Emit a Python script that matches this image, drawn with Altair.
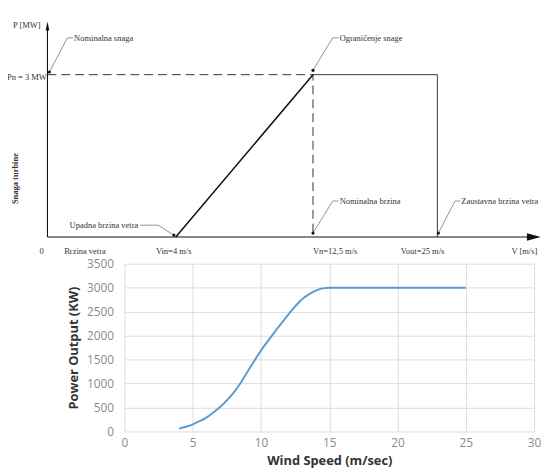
import altair as alt
import pandas as pd

# ---------------- bottom chart: measured power curve ----------------
wind_speed = [4.0, 4.5, 5.0, 5.5, 6.0, 6.5, 7.0, 7.5, 8.0, 8.5, 9.0, 9.5, 10.0,
              10.5, 11.0, 11.5, 12.0, 12.5, 13.0, 13.5, 14.0, 14.5, 15.0, 16.0,
              18.0, 20.0, 22.0, 25.0]
power_kw = [60, 100, 150, 215, 290, 395, 510, 650, 810, 1010, 1240, 1470, 1690,
            1885, 2075, 2260, 2440, 2610, 2760, 2860, 2940, 2985, 3000, 3000,
            3000, 3000, 3000, 3000]
x_ticks = [0, 5, 10, 15, 20, 25, 30]
y_ticks = [0, 500, 1000, 1500, 2000, 2500, 3000, 3500]

# ---------------- top chart: idealised (schematic) power curve ----------------
v_in, v_n, v_out = 4, 12.5, 25
p_n = 3
axis_v_end = 34.1
axis_p_end = 3.85
arrow_v = 34.7
arrow_p = 3.9

# leader lines: (id, V, P)
leader_id = [1, 1, 1, 2, 2, 2, 3, 3, 3, 4, 4, 4, 5, 5, 5]
leader_v = [0.80, 0.62, 0.06, 15.08, 14.48, 12.5, 15.08, 14.48, 12.5,
            27.28, 26.78, 25.1, 2.89, 3.45, 3.94]
leader_p = [3.68, 3.68, 3.05, 3.68, 3.68, 3.08, 0.666, 0.666, 0.073,
            0.666, 0.666, 0.073, 0.219, 0.219, 0.036]

left_text = ["Nominalna snaga", "Ograničenje snage", "Nominalna brzina",
             "Zaustavna brzina vetra", "Brzina vetra", "Vin=4 m/s",
             "Vn=12,5 m/s", "Vout=25 m/s", "V [m/s]"]
left_v = [0.83, 15.18, 15.18, 27.4, 0.52, 3.38, 12.5, 21.33, 32.44]
left_p = [3.68, 3.68, 0.666, 0.666, -0.255, -0.255, -0.255, -0.255, -0.255]

right_text = ["P [MW]", "Pn = 3 MW", "Upadna brzina vetra"]
right_v = [-0.215, -0.02, 2.83]
right_p = [3.92, 2.96, 0.219]

center_text = ["0"]
center_v = [-0.185]
center_p = [-0.255]

rot_text = ["Snaga turbine"]
rot_v = [-1.0]
rot_p = [1.08]

# ---------------- tables ----------------
curve_df = pd.DataFrame({"ws": wind_speed, "kw": power_kw})

axes_df = pd.DataFrame({
    "id": [1, 1, 2, 2],
    "ord": [0, 1, 0, 1],
    "V": [0, axis_v_end, 0, 0],
    "P": [0, 0, 0, axis_p_end],
})
dash_df = pd.DataFrame({"ord": [0, 1, 2], "V": [0, v_n, v_n], "P": [p_n, p_n, 0]})
ramp_df = pd.DataFrame({"ord": [0, 1], "V": [v_in, v_n], "P": [0, p_n]})
plateau_df = pd.DataFrame({"ord": [0, 1, 2], "V": [v_n, v_out, v_out], "P": [p_n, p_n, 0]})
leader_df = pd.DataFrame({"id": leader_id, "ord": list(range(len(leader_id))),
                          "V": leader_v, "P": leader_p})
leader_end_df = leader_df.groupby("id").tail(1)
arrow_x_df = pd.DataFrame({"V": [arrow_v], "P": [0]})
arrow_y_df = pd.DataFrame({"V": [0], "P": [arrow_p]})
left_df = pd.DataFrame({"t": left_text, "V": left_v, "P": left_p})
right_df = pd.DataFrame({"t": right_text, "V": right_v, "P": right_p})
center_df = pd.DataFrame({"t": center_text, "V": center_v, "P": center_p})
rot_df = pd.DataFrame({"t": rot_text, "V": rot_v, "P": rot_p})

# ---------------- schematic scales ----------------
xs = alt.Scale(domain=[0, v_in, v_n, v_out], range=[-78, 52, 191, 317], nice=False, zero=False)
ys = alt.Scale(domain=[0, p_n], range=[-27, -191.5], nice=False, zero=False)
X = alt.X("V:Q", scale=xs, axis=None)
Y = alt.Y("P:Q", scale=ys, axis=None)

serif = dict(font="Liberation Serif", fontSize=8.6, color="#333333", baseline="middle")

axes_lines = alt.Chart(axes_df).mark_line(color="#111111", strokeWidth=1.1).encode(
    x=X, y=Y, detail="id:N", order="ord:Q")
dash_line = alt.Chart(dash_df).mark_line(color="#333333", strokeWidth=1,
                                         strokeDash=[9, 5]).encode(x=X, y=Y, order="ord:Q")
ramp_line = alt.Chart(ramp_df).mark_line(color="#111111", strokeWidth=1.5).encode(
    x=X, y=Y, order="ord:Q")
plateau_line = alt.Chart(plateau_df).mark_line(color="#333333", strokeWidth=1).encode(
    x=X, y=Y, order="ord:Q")
leaders = alt.Chart(leader_df).mark_line(color="#777777", strokeWidth=0.8).encode(
    x=X, y=Y, detail="id:N", order="ord:Q")
leader_ends = alt.Chart(leader_end_df).mark_point(filled=True, color="#111111", size=10,
                                                  opacity=1).encode(x=X, y=Y)
arrow_x = alt.Chart(arrow_x_df).mark_point(shape="M1,0L-1,-0.55L-1,0.55Z", filled=True,
                                           color="#111111", size=196, opacity=1).encode(x=X, y=Y)
arrow_y = alt.Chart(arrow_y_df).mark_point(shape="M0,-1L-0.4,1L0.4,1Z", filled=True,
                                           color="#111111", size=81, opacity=1).encode(x=X, y=Y)
left_labels = alt.Chart(left_df).mark_text(align="left", **serif).encode(x=X, y=Y, text="t:N")
right_labels = alt.Chart(right_df).mark_text(align="right", **serif).encode(x=X, y=Y, text="t:N")
center_labels = alt.Chart(center_df).mark_text(align="center", **serif).encode(x=X, y=Y, text="t:N")
rot_labels = alt.Chart(rot_df).mark_text(align="center", angle=270, fontWeight="bold",
                                         **serif).encode(x=X, y=Y, text="t:N")

top = alt.layer(axes_lines, dash_line, plateau_line, ramp_line, leaders, leader_ends,
                arrow_x, arrow_y, left_labels, right_labels, center_labels, rot_labels)

# ---------------- measured curve ----------------
bottom = alt.Chart(curve_df).mark_line(color="#5b9bd5", strokeWidth=2,
                                       interpolate="monotone").encode(
    x=alt.X("ws:Q", scale=alt.Scale(domain=[0, 30], nice=False, zero=False),
            axis=alt.Axis(values=x_ticks, orient="bottom", title="Wind Speed (m/sec)",
                          labelFlush=False, labelPadding=6, titlePadding=6, format="d")),
    y=alt.Y("kw:Q", scale=alt.Scale(domain=[0, 3500], nice=False),
            axis=alt.Axis(values=y_ticks, orient="left", title="Power Output (KW)",
                          labelPadding=11, titlePadding=6, format="d")),
)

chart = alt.layer(bottom, top).resolve_scale(
    x="independent", y="independent"
).properties(
    width=415, height=170,
    autosize=alt.AutoSizeParams(type="none"),
    padding={"left": 118, "top": 256, "right": 7, "bottom": 38},
).configure_view(stroke=None).configure_axis(
    domain=False, ticks=False, grid=True, gridColor="#dcdcdc", gridWidth=1,
    labelFont="Open Sans", labelFontSize=12, labelColor="#8c8c8c",
    titleFont="Open Sans", titleFontSize=13, titleFontWeight="bold", titleColor="#333333",
)

chart.save("out.html", embed_options={"renderer": "svg", "actions": False})
